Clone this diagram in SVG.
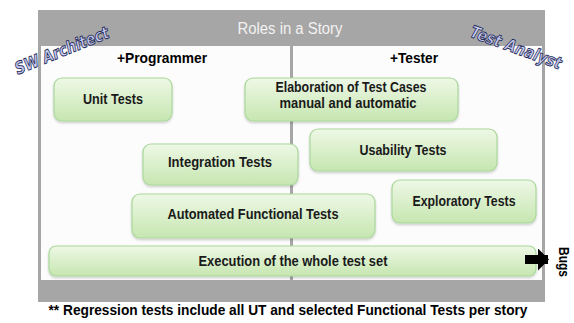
<svg xmlns="http://www.w3.org/2000/svg" width="574" height="323" viewBox="0 0 574 323">
<defs>
<linearGradient id="g" x1="0" y1="0" x2="0" y2="1">
<stop offset="0" stop-color="#eef8e6"/>
<stop offset="1" stop-color="#c6e6b0"/>
</linearGradient>
<filter id="sh" x="-5%" y="-10%" width="110%" height="130%">
<feDropShadow dx="0" dy="1.5" stdDeviation="1" flood-color="#000" flood-opacity="0.2"/>
</filter>
<marker id="ah" markerWidth="11" markerHeight="22" refX="10" refY="11" orient="auto" markerUnits="userSpaceOnUse">
<path d="M0,0 L11,11 L0,22 Z" fill="#000"/>
</marker>
</defs>
<style>
.box{fill:url(#g);stroke:#a9d89b;stroke-width:1.2;filter:url(#sh)}
.lbl{font-family:"Liberation Sans",Arial,sans-serif;font-weight:bold;font-size:15px;fill:#1a1a1a;text-anchor:middle}
.role{font-family:"Liberation Sans",Arial,sans-serif;font-weight:bold;font-size:15px;fill:#000;text-anchor:middle}
.art{font-family:"DejaVu Sans",sans-serif;font-style:italic;font-weight:bold;font-size:17px;fill:#c9cdf2;stroke:#1e2a5a;stroke-width:0.9;text-anchor:middle}
</style>
<rect width="574" height="323" fill="#ffffff"/>
<g id="frame">
<rect x="38" y="10" width="507" height="292" fill="#a6a6a6"/>
<rect x="41" y="46" width="501" height="234" fill="#fdfcfc"/>
<rect x="290" y="46" width="3" height="234" fill="#a6a6a6"/>
<text x="290" y="34" font-family="Liberation Sans,Arial,sans-serif" font-size="16" fill="#f2f2f2" text-anchor="middle" textLength="105" lengthAdjust="spacingAndGlyphs">Roles in a Story</text>
</g>
<g id="roles">
<text class="role" x="162" y="63" textLength="90" lengthAdjust="spacingAndGlyphs">+Programmer</text>
<text class="role" x="414" y="63" textLength="48" lengthAdjust="spacingAndGlyphs">+Tester</text>
<text class="art" transform="translate(64,56) rotate(-22)" textLength="100" lengthAdjust="spacingAndGlyphs">SW Architect</text>
<text class="art" transform="translate(514,53) rotate(20)" textLength="96" lengthAdjust="spacingAndGlyphs">Test Analyst</text>
</g>
<g id="unit-tests">
<rect class="box" x="54" y="78" width="118" height="43" rx="8"/>
<text class="lbl" x="113" y="104" textLength="60" lengthAdjust="spacingAndGlyphs">Unit Tests</text>
</g>
<g id="elaboration">
<rect class="box" x="245" y="78" width="213" height="43" rx="8"/>
<text class="lbl" x="351" y="92" font-size="13" textLength="151" lengthAdjust="spacingAndGlyphs">Elaboration of Test Cases</text>
<text class="lbl" x="348" y="108" font-size="13" textLength="137" lengthAdjust="spacingAndGlyphs">manual and automatic</text>
</g>
<g id="integration-tests">
<rect class="box" x="143" y="144" width="155" height="41" rx="8"/>
<text class="lbl" x="220" y="167" font-size="13" textLength="104" lengthAdjust="spacingAndGlyphs">Integration Tests</text>
</g>
<g id="usability-tests">
<rect class="box" x="310" y="129" width="187" height="42" rx="8"/>
<text class="lbl" x="403" y="155" textLength="87" lengthAdjust="spacingAndGlyphs">Usability Tests</text>
</g>
<g id="exploratory-tests">
<rect class="box" x="392" y="180" width="144" height="43" rx="8"/>
<text class="lbl" x="464" y="206" textLength="103" lengthAdjust="spacingAndGlyphs">Exploratory Tests</text>
</g>
<g id="automated-functional-tests">
<rect class="box" x="132" y="194" width="243" height="44" rx="8"/>
<text class="lbl" x="253" y="219" textLength="171" lengthAdjust="spacingAndGlyphs">Automated Functional Tests</text>
</g>
<g id="execution">
<rect class="box" x="49" y="246" width="487" height="30" rx="7"/>
<text class="lbl" x="293" y="266" textLength="189" lengthAdjust="spacingAndGlyphs">Execution of the whole test set</text>
</g>
<g id="connectors">
<line x1="525" y1="259.5" x2="548" y2="259.5" stroke="#000" stroke-width="9" marker-end="url(#ah)"/>
</g>
<g id="bugs">
<text transform="translate(559,262) rotate(90)" font-family="Liberation Sans,Arial,sans-serif" font-weight="bold" font-size="15" fill="#000" text-anchor="middle" textLength="30" lengthAdjust="spacingAndGlyphs">Bugs</text>
</g>
<g id="footnote">
<text x="288" y="315" font-family="Liberation Sans,Arial,sans-serif" font-weight="bold" font-size="15" fill="#000" text-anchor="middle" textLength="479" lengthAdjust="spacingAndGlyphs">** Regression tests include all UT and selected Functional Tests per story</text>
</g>
</svg>
